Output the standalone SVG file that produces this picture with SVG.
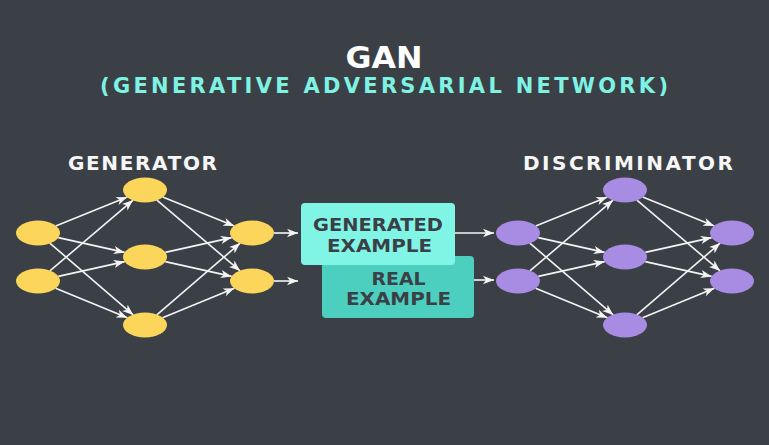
<svg xmlns="http://www.w3.org/2000/svg" width="769" height="445" viewBox="0 0 769 445">
<style>
.t{font-family:"DejaVu Sans","Liberation Sans",Arial,sans-serif;font-weight:bold;text-anchor:middle}
.y{fill:#fcd65a}
.p{fill:#a88be2}
.e{stroke:#f4f4f4;stroke-width:1.6;fill:none;marker-end:url(#ah)}
.bt{fill:#3a4046;font-size:18px}
</style>
<defs>
<marker id="ah" markerUnits="userSpaceOnUse" markerWidth="12" markerHeight="10" viewBox="0 0 12 10" refX="11" refY="5" orient="auto">
<path d="M0,0.8 L11,5 L0,9.2 L3,5 Z" fill="#f4f4f4"/>
</marker>
</defs>
<rect width="769" height="445" fill="#3b4046"/>
<g id="title">
<text class="t" x="384" y="68" font-size="30" fill="#ffffff" textLength="77" lengthAdjust="spacingAndGlyphs">GAN</text>
<text class="t" x="384" y="93" font-size="21" fill="#7ff3e3" textLength="568" lengthAdjust="spacing">(GENERATIVE ADVERSARIAL NETWORK)</text>
</g>
<g id="label-generator"><text class="t" x="142.5" y="170" font-size="20" fill="#f6f6f6" textLength="149" lengthAdjust="spacing">GENERATOR</text></g>
<g id="label-discriminator"><text class="t" x="628" y="170" font-size="20" fill="#f6f6f6" textLength="210" lengthAdjust="spacing">DISCRIMINATOR</text></g>
<g id="connectors">
<line class="e" x1="55.7" y1="225.9" x2="127.3" y2="197.1"/>
<line class="e" x1="58.3" y1="237.6" x2="124.7" y2="252.4"/>
<line class="e" x1="49.8" y1="243.1" x2="133.2" y2="314.9"/>
<line class="e" x1="49.9" y1="270.9" x2="133.1" y2="200.1"/>
<line class="e" x1="58.3" y1="276.4" x2="124.7" y2="261.6"/>
<line class="e" x1="55.6" y1="288.2" x2="127.4" y2="317.8"/>
<line class="e" x1="162.7" y1="197.1" x2="234.3" y2="225.9"/>
<line class="e" x1="156.9" y1="200.1" x2="240.1" y2="270.9"/>
<line class="e" x1="165.3" y1="252.4" x2="231.7" y2="237.6"/>
<line class="e" x1="165.3" y1="261.6" x2="231.7" y2="276.4"/>
<line class="e" x1="156.8" y1="314.9" x2="240.2" y2="243.1"/>
<line class="e" x1="162.6" y1="317.8" x2="234.4" y2="288.2"/>
<line class="e" x1="274" y1="233" x2="298" y2="233"/>
<line class="e" x1="274" y1="281" x2="298" y2="281"/>
<line class="e" x1="455" y1="233" x2="494" y2="233"/>
<line class="e" x1="474" y1="280" x2="494" y2="280"/>
<line class="e" x1="535.7" y1="225.9" x2="607.3" y2="197.1"/>
<line class="e" x1="538.3" y1="237.6" x2="604.7" y2="252.4"/>
<line class="e" x1="529.8" y1="243.1" x2="613.2" y2="314.9"/>
<line class="e" x1="529.9" y1="270.9" x2="613.1" y2="200.1"/>
<line class="e" x1="538.3" y1="276.4" x2="604.7" y2="261.6"/>
<line class="e" x1="535.6" y1="288.2" x2="607.4" y2="317.8"/>
<line class="e" x1="642.7" y1="197.1" x2="714.3" y2="225.9"/>
<line class="e" x1="636.9" y1="200.1" x2="720.1" y2="270.9"/>
<line class="e" x1="645.3" y1="252.4" x2="711.7" y2="237.6"/>
<line class="e" x1="645.3" y1="261.6" x2="711.7" y2="276.4"/>
<line class="e" x1="636.8" y1="314.9" x2="720.2" y2="243.1"/>
<line class="e" x1="642.6" y1="317.8" x2="714.4" y2="288.2"/>
</g>
<g id="gen-in1"><ellipse class="y" cx="38" cy="233" rx="22" ry="12.5"/></g>
<g id="gen-in2"><ellipse class="y" cx="38" cy="281" rx="22" ry="12.5"/></g>
<g id="gen-h1"><ellipse class="y" cx="145" cy="190" rx="22" ry="12.5"/></g>
<g id="gen-h2"><ellipse class="y" cx="145" cy="257" rx="22" ry="12.5"/></g>
<g id="gen-h3"><ellipse class="y" cx="145" cy="325" rx="22" ry="12.5"/></g>
<g id="gen-out1"><ellipse class="y" cx="252" cy="233" rx="22" ry="12.5"/></g>
<g id="gen-out2"><ellipse class="y" cx="252" cy="281" rx="22" ry="12.5"/></g>
<g id="real-example">
<rect x="322" y="256" width="152" height="62" rx="4" fill="#4dcfc0"/>
<text class="t bt" x="398.5" y="285" textLength="54" lengthAdjust="spacingAndGlyphs">REAL</text>
<text class="t bt" x="398.5" y="305" textLength="105" lengthAdjust="spacingAndGlyphs">EXAMPLE</text>
</g>
<g id="generated-example">
<rect x="301" y="203" width="154" height="62" rx="4" fill="#80f5e6"/>
<text class="t bt" x="378" y="231" textLength="130" lengthAdjust="spacingAndGlyphs">GENERATED</text>
<text class="t bt" x="379.5" y="252" textLength="105" lengthAdjust="spacingAndGlyphs">EXAMPLE</text>
</g>
<g id="dis-in1"><ellipse class="p" cx="518" cy="233" rx="22" ry="12.5"/></g>
<g id="dis-in2"><ellipse class="p" cx="518" cy="281" rx="22" ry="12.5"/></g>
<g id="dis-h1"><ellipse class="p" cx="625" cy="190" rx="22" ry="12.5"/></g>
<g id="dis-h2"><ellipse class="p" cx="625" cy="257" rx="22" ry="12.5"/></g>
<g id="dis-h3"><ellipse class="p" cx="625" cy="325" rx="22" ry="12.5"/></g>
<g id="dis-out1"><ellipse class="p" cx="732" cy="233" rx="22" ry="12.5"/></g>
<g id="dis-out2"><ellipse class="p" cx="732" cy="281" rx="22" ry="12.5"/></g>
</svg>
